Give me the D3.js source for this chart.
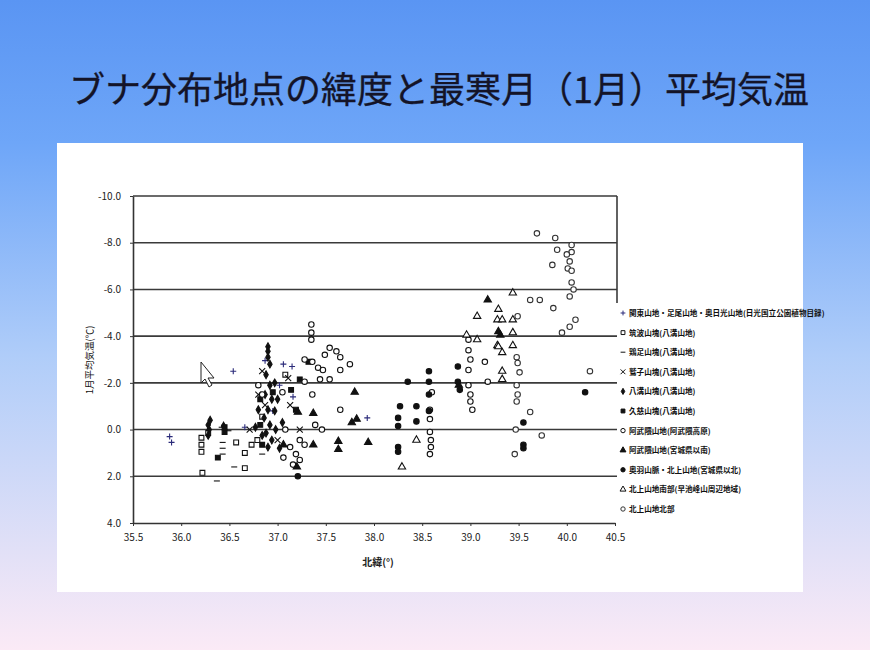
<!DOCTYPE html>
<html>
<head>
<meta charset="utf-8">
<script src="https://cdn.jsdelivr.net/npm/d3@7"></script>
<style>
  body { margin: 0; }
  svg { display: block; }
  text { font-family: "Noto Sans CJK JP", "Noto Sans", sans-serif; }
</style>
</head>
<body>
<svg id="chart" width="870" height="650"></svg>
<script>
// 各地域のブナ分布地点 [北緯, 1月平均気温]
const kantoPts = [[35.88,0.3],[35.90,0.55],[36.54,-2.5],[36.87,-2.95],[37.06,-2.8],[37.15,-2.7],
  [37.16,-1.4],[37.93,-0.5],[36.66,-0.1],[36.95,-0.8],[37.02,-1.9]];
const tsukubaPts = [[36.21,0.35],[36.21,0.65],[36.21,0.95],[36.22,1.85],[36.28,0.15],[36.57,0.55],
  [36.66,1.0],[36.66,1.65],[36.73,0.65],[36.84,-0.55],[36.79,0.45],[37.08,-2.35]];
const keisokuPts = [[36.43,0.55],[36.43,0.8],[36.43,1.05],[36.37,2.2],[36.55,1.6],[36.42,-0.1],
  [36.49,0.05],[36.84,1.05]];
const toriNoKoPts = [[36.80,-1.5],[36.87,-1.05],[36.71,0.0],[37.11,-2.2],[37.0,0.45],[37.13,-1.05],
  [37.23,0.0],[36.84,-2.5]];
const yamizoPts = [[36.28,-0.2],[36.29,0.0],[36.28,0.25],[36.30,-0.4],[36.44,-0.15],
  [36.90,-3.55],[36.90,-3.35],[36.90,-3.1],[36.92,-2.8],[36.88,-2.35],[36.92,-1.9],[36.87,-1.5],
  [36.94,-1.3],[36.90,-0.85],[36.86,-0.5],[36.92,-0.2],[36.88,0.15],[36.94,0.45],[36.90,0.75],
  [36.97,-2.0],[37.0,-1.3],[36.97,-0.8],[37.05,-0.3],[36.80,-0.85],[36.77,-0.1],[36.84,0.25],
  [36.98,0.0],[37.02,0.8]];
const kujiPts = [[36.82,-1.3],[36.82,-0.2],[36.95,-1.6],[36.84,0.65],[36.45,-0.1],[36.45,0.1],
  [36.38,1.2],[37.14,-1.7],[37.32,-2.9],[37.23,-2.15],[37.19,-0.85]];
const abukumaPts = [[37.35,-4.5],[37.35,-4.15],[37.35,-3.85],[37.28,-3.0],[37.36,-2.9],[37.42,-2.65],
  [37.49,-3.2],[37.54,-3.5],[37.61,-3.35],[37.65,-3.1],[37.47,-2.55],[37.54,-2.15],[37.65,-2.55],
  [37.75,-2.8],[37.44,-2.15],[37.28,-2.05],[37.36,-1.5],[37.05,-1.6],[36.80,-1.9],[36.84,-1.5],
  [37.08,0.0],[37.13,0.75],[37.19,1.05],[37.23,1.3],[37.06,1.2],[37.16,1.5],[37.23,0.45],
  [37.28,0.65],[37.39,-0.2],[37.46,0.0],[37.65,-0.85],
  [38.58,-0.85],[38.58,-0.45],[38.58,0.1],[38.59,0.45],[38.59,0.75],[38.58,1.05],[38.60,-1.6],
  [38.98,-3.85],[38.98,-3.4],[39.0,-3.0],[38.98,-2.55],[38.98,-1.9],[39.0,-1.5],[39.0,-1.2],
  [39.02,-0.85],[39.15,-2.9],[39.18,-2.05]];
const abukumaSouthPts = [[37.21,-0.75],[37.37,-0.7],[37.37,0.65],[37.20,1.6],[37.63,0.5],[37.63,0.85],
  [37.94,0.55],[37.80,-1.6],[37.82,-0.45],[37.77,-0.3],[37.06,0.65],[39.29,-4.2],[39.18,-5.55],
  [39.31,-4.05],[38.88,-1.9]];
const ouPts = [[38.35,-2.05],[38.57,-2.5],[38.57,-2.05],[38.57,-1.5],[38.27,-1.0],[38.44,-1.0],
  [38.44,-0.35],[38.25,-0.5],[38.25,-0.15],[38.25,0.75],[38.25,0.95],[38.57,-0.8],[38.87,-2.7],
  [38.87,-2.05],[38.89,-1.7],[39.55,-0.3],[39.55,0.65],[39.55,0.8],[40.19,-1.6],[37.21,2.0]];
const kitakamiSouthPts = [[38.29,1.6],[38.44,0.45],[39.07,-3.85],[39.28,-3.6],[39.33,-3.3],[39.44,-3.6],
  [39.33,-2.5],[39.33,-2.15],[39.07,-4.85],[39.29,-5.15],[39.28,-4.7],[39.33,-4.7],[39.44,-4.7],
  [39.44,-5.85],[39.44,-4.15],[39.29,-3.55],[38.96,-4.05]];
const kitakamiNorthPts = [[39.69,-8.4],[39.88,-8.2],[39.90,-7.7],[40.05,-7.9],[40.05,-7.6],[39.85,-7.05],
  [40.01,-6.9],[40.05,-6.3],[40.03,-5.7],[39.62,-5.55],[39.72,-5.55],[39.86,-5.2],[40.09,-4.7],
  [40.03,-4.4],[39.95,-4.15],[39.49,-4.85],[40.24,-2.5],[39.48,-3.1],[39.49,-2.85],[39.51,-2.45],
  [39.48,-1.9],[39.49,-1.5],[39.62,-0.75],[39.74,0.25],[39.46,1.05],[39.48,-1.2],[39.47,0.0],
  [40.0,-7.5],[40.03,-7.2],[40.05,-6.8],[40.07,-6.0]];

const legendLabels = [
  "関東山地・足尾山地・奥日光山地(日光国立公園植物目録)",
  "筑波山塊(八溝山地)",
  "鶏足山塊(八溝山地)",
  "鷲子山塊(八溝山地)",
  "八溝山塊(八溝山地)",
  "久慈山塊(八溝山地)",
  "阿武隈山地(阿武隈高原)",
  "阿武隈山地(宮城県以南)",
  "奥羽山脈・北上山地(宮城県以北)",
  "北上山地南部(早池峰山周辺地域)",
  "北上山地北部"
];
const yTicks = [-10, -8, -6, -4, -2, 0, 2, 4];
const xTicks = [35.5, 36.0, 36.5, 37.0, 37.5, 38.0, 38.5, 39.0, 39.5, 40.0, 40.5];

const seriesData = [kantoPts, tsukubaPts, keisokuPts, toriNoKoPts, yamizoPts, kujiPts,
  abukumaPts, abukumaSouthPts, ouPts, kitakamiSouthPts, kitakamiNorthPts];
const seriesStyle = [
  {type: "plus", color: "#2b2b7a", fill: "none"},
  {type: "square", color: "#111", fill: "white"},
  {type: "dash", color: "#111", fill: "none"},
  {type: "x", color: "#111", fill: "none"},
  {type: "diamond", color: "#111", fill: "#111"},
  {type: "square", color: "#111", fill: "#111"},
  {type: "circle", color: "#111", fill: "white"},
  {type: "triangle", color: "#111", fill: "#111"},
  {type: "circle", color: "#111", fill: "#111"},
  {type: "triangle", color: "#111", fill: "white"},
  {type: "circle", color: "#333", fill: "white"}
];

const svg = d3.select("#chart");

// 背景のグラデーション
const defs = svg.append("defs");
const grad = defs.append("linearGradient").attr("id", "bg")
  .attr("x1", 0).attr("y1", 0).attr("x2", 0).attr("y2", 1);
grad.append("stop").attr("offset", "0%").attr("stop-color", "#5a95f3");
grad.append("stop").attr("offset", "22%").attr("stop-color", "#6ea6f8");
grad.append("stop").attr("offset", "55%").attr("stop-color", "#b0cdf9");
grad.append("stop").attr("offset", "100%").attr("stop-color", "#fbeaf6");
svg.append("rect").attr("width", 870).attr("height", 650).attr("fill", "url(#bg)");

svg.append("text")
  .attr("x", 439).attr("y", 103)
  .attr("text-anchor", "middle")
  .attr("font-size", 36)
  .attr("fill", "#141428")
  .attr("stroke", "#141428").attr("stroke-width", 0.3)
  .text("ブナ分布地点の緯度と最寒月（1月）平均気温");

// 白いパネル
svg.append("rect").attr("x", 57).attr("y", 143).attr("width", 746).attr("height", 449).attr("fill", "white");

const x = d3.scaleLinear().domain([35.5, 40.5]).range([133, 615]);
const y = d3.scaleLinear().domain([-10, 4]).range([196, 523]);

const g = svg.append("g");

// 横グリッド線
g.selectAll(".grid")
  .data(yTicks.filter(d => d < 4))
  .enter().append("line")
  .attr("x1", x(35.5)).attr("x2", 617)
  .attr("y1", d => y(d)).attr("y2", d => y(d))
  .attr("stroke", "#3a3a3a").attr("stroke-width", 1.6);

g.append("line").attr("x1", 617).attr("x2", 617).attr("y1", y(-10)).attr("y2", 303)
  .attr("stroke", "#3a3a3a").attr("stroke-width", 1.6);

const xAxis = d3.axisBottom(x).tickValues(xTicks).tickFormat(d3.format(".1f")).tickSize(3).tickSizeOuter(0);
const yAxis = d3.axisLeft(y).tickValues(yTicks).tickFormat(d => d3.format(".1f")(d).replace("−", "-")).tickSize(3).tickSizeOuter(0);

const gx = g.append("g").attr("transform", `translate(0,${y(4)})`).call(xAxis);
const gy = g.append("g").attr("transform", `translate(${x(35.5)},0)`).call(yAxis);
[gx, gy].forEach(a => {
  a.select(".domain").attr("stroke", "#333").attr("stroke-width", 1.6);
  a.selectAll(".tick line").attr("stroke", "#333");
  a.selectAll(".tick text").attr("font-family", "Arial, 'Liberation Sans', sans-serif")
    .attr("font-size", 10).attr("fill", "#222");
});
gx.selectAll(".tick text").attr("dy", "1.2em");
gy.selectAll(".tick text").attr("dx", "-0.6em");

svg.append("text")
  .attr("transform", "translate(93,360) rotate(-90)")
  .attr("text-anchor", "middle").attr("font-size", 9.5).attr("fill", "#111")
  .text("1月平均気温(℃)");
svg.append("text")
  .attr("x", 378).attr("y", 566)
  .attr("text-anchor", "middle").attr("font-size", 10).attr("font-weight", "bold").attr("fill", "#222")
  .text("北緯(°)");

const symbolTypes = {square: d3.symbolSquare, diamond: d3.symbolDiamond, circle: d3.symbolCircle, triangle: d3.symbolTriangle};
function markerPath(type, r) {
  if (type === "plus") return `M${-r},0H${r}M0,${-r}V${r}`;
  if (type === "x") return `M${-r},${-r}L${r},${r}M${-r},${r}L${r},${-r}`;
  if (type === "dash") return `M${-r},0H${r}`;
  const k = type === "diamond" ? 1.9 : 2.6;
  return d3.symbol(symbolTypes[type], r * r * k)();
}

// 分布地点
seriesData.forEach((pts, i) => {
  const st = seriesStyle[i];
  g.append("g").selectAll("path")
    .data(pts)
    .enter().append("path")
    .attr("transform", d => `translate(${x(d[0])},${y(d[1])})`)
    .attr("d", markerPath(st.type, 3))
    .attr("fill", st.fill)
    .attr("stroke", st.color)
    .attr("stroke-width", 1.1);
});

// 凡例
const legend = svg.append("g");
legendLabels.forEach((lab, i) => {
  const st = seriesStyle[i];
  const ly = 313 + i * 19.6;
  legend.append("path")
    .attr("transform", `translate(623,${ly})`)
    .attr("d", markerPath(st.type, 2.4))
    .attr("fill", st.fill).attr("stroke", st.color).attr("stroke-width", 1);
  legend.append("text")
    .attr("x", 629).attr("y", ly + 3)
    .attr("font-size", 7.6).attr("font-weight", "bold").attr("fill", "#111")
    .text(lab);
});

// マウスカーソル
svg.append("path")
  .attr("d", "M201,362 L201,383 L205,379 L209,387 L212,385 L208,378 L214,378 Z")
  .attr("fill", "white").attr("stroke", "#222").attr("stroke-width", 1);
</script>
</body>
</html>
